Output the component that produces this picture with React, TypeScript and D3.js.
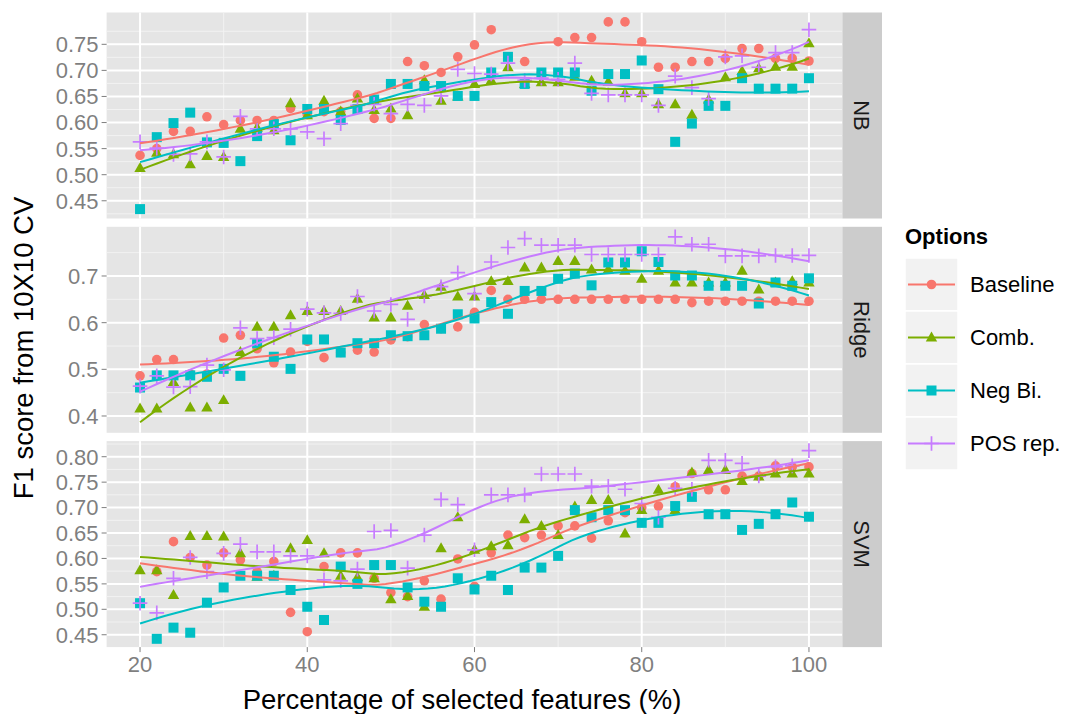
import React from 'react';
import * as d3 from 'd3';

// Percentage of selected features (x positions shared by every series)
const pct = [20, 22, 24, 26, 28, 30, 32, 34, 36, 38, 40, 42, 44, 46, 48, 50, 52, 54, 56, 58, 60,
  62, 64, 66, 68, 70, 72, 74, 76, 78, 80, 82, 84, 86, 88, 90, 92, 94, 96, 98, 100];

const optionNames = ['Baseline', 'Comb.', 'Neg Bi.', 'POS rep.'];
const optionColors = ['#F8766D', '#7CAE00', '#00BFC4', '#C77CFF'];
const panelNames = ['NB', 'Ridge', 'SVM'];

// NB
const nbBaseline = [0.537, 0.55, 0.583, 0.583, 0.611, 0.596, 0.604, 0.604, 0.604, 0.627, 0.615, 0.621, 0.621, 0.653, 0.608, 0.608, 0.717, 0.709, 0.696, 0.726, 0.749,
  0.778, 0.726, 0.717, 0.695, 0.755, 0.763, 0.763, 0.793, 0.793, 0.755, 0.706, 0.706, 0.717, 0.717, 0.723, 0.742, 0.742, 0.723, 0.723, 0.718];
const nbComb = [0.513, 0.542, 0.539, 0.52, 0.536, 0.534, 0.588, 0.59, 0.585, 0.637, 0.614, 0.642, 0.621, 0.646, 0.624, 0.627, 0.614, 0.681, 0.642, 0.65, 0.674,
  0.681, 0.706, 0.674, 0.677, 0.677, 0.688, 0.68, 0.678, 0.656, 0.656, 0.635, 0.635, 0.615, 0.644, 0.687, 0.699, 0.704, 0.707, 0.707, 0.752];
const nbNegBi = [0.434, 0.572, 0.599, 0.619, 0.562, 0.561, 0.526, 0.574, 0.597, 0.566, 0.626, 0.626, 0.605, 0.626, 0.644, 0.674, 0.674, 0.67, 0.67, 0.651, 0.651,
  0.696, 0.726, 0.674, 0.696, 0.696, 0.696, 0.661, 0.693, 0.693, 0.719, 0.664, 0.563, 0.598, 0.632, 0.632, 0.685, 0.665, 0.665, 0.665, 0.685];
const nbPosRep = [0.563, 0.551, 0.539, 0.54, 0.563, 0.534, 0.612, 0.588, 0.588, 0.588, 0.582, 0.569, 0.598, 0.633, 0.635, 0.617, 0.635, 0.633, 0.651, 0.702, 0.694,
  0.693, 0.714, 0.681, 0.685, 0.683, 0.714, 0.656, 0.653, 0.653, 0.653, 0.633, 0.689, 0.667, 0.646, 0.726, 0.728, 0.706, 0.734, 0.734, 0.778];

// Ridge
const ridgeBaseline = [0.486, 0.521, 0.521, 0.49, 0.49, 0.567, 0.573, 0.544, 0.514, 0.537, 0.56, 0.525, 0.536, 0.541, 0.537, 0.563, 0.57, 0.596, 0.587, 0.591, 0.622,
  0.669, 0.65, 0.65, 0.65, 0.65, 0.65, 0.65, 0.65, 0.65, 0.65, 0.65, 0.65, 0.643, 0.646, 0.646, 0.646, 0.646, 0.646, 0.646, 0.646];
const ridgeComb = [0.416, 0.416, 0.473, 0.418, 0.418, 0.434, 0.537, 0.591, 0.591, 0.616, 0.625, 0.625, 0.625, 0.651, 0.611, 0.611, 0.636, 0.659, 0.677, 0.656, 0.656,
  0.689, 0.689, 0.718, 0.718, 0.732, 0.732, 0.714, 0.714, 0.711, 0.694, 0.711, 0.686, 0.686, 0.686, 0.686, 0.711, 0.671, 0.686, 0.689, 0.686];
const ridgeNegBi = [0.461, 0.487, 0.487, 0.487, 0.484, 0.501, 0.486, 0.556, 0.527, 0.501, 0.564, 0.564, 0.536, 0.556, 0.556, 0.573, 0.571, 0.573, 0.587, 0.618, 0.609,
  0.644, 0.619, 0.668, 0.668, 0.694, 0.705, 0.68, 0.729, 0.729, 0.753, 0.73, 0.701, 0.701, 0.679, 0.679, 0.679, 0.641, 0.686, 0.679, 0.695];
const ridgePosRep = [0.464, 0.486, 0.462, 0.463, 0.509, 0.499, 0.589, 0.566, 0.568, 0.586, 0.629, 0.621, 0.62, 0.656, 0.625, 0.639, 0.607, 0.657, 0.677, 0.707, 0.662,
  0.73, 0.761, 0.78, 0.766, 0.766, 0.766, 0.746, 0.746, 0.746, 0.746, 0.746, 0.784, 0.768, 0.768, 0.743, 0.743, 0.743, 0.744, 0.744, 0.744];

// SVM
const svmBaseline = [0.512, 0.574, 0.633, 0.602, 0.587, 0.611, 0.597, 0.574, 0.594, 0.494, 0.456, 0.584, 0.611, 0.611, 0.561, 0.533, 0.525, 0.556, 0.52, 0.599, 0.545,
  0.611, 0.646, 0.641, 0.646, 0.664, 0.664, 0.64, 0.674, 0.69, 0.7, 0.703, 0.741, 0.767, 0.735, 0.735, 0.762, 0.762, 0.782, 0.78, 0.78];
const svmComb = [0.577, 0.577, 0.528, 0.644, 0.644, 0.643, 0.61, 0.564, 0.566, 0.62, 0.636, 0.61, 0.566, 0.563, 0.561, 0.52, 0.526, 0.505, 0.62, 0.681, 0.617,
  0.624, 0.626, 0.677, 0.664, 0.646, 0.702, 0.715, 0.715, 0.649, 0.695, 0.735, 0.695, 0.769, 0.774, 0.774, 0.752, 0.761, 0.767, 0.767, 0.767];
const svmNegBi = [0.512, 0.442, 0.464, 0.454, 0.513, 0.543, 0.566, 0.566, 0.566, 0.538, 0.505, 0.479, 0.584, 0.55, 0.587, 0.587, 0.543, 0.515, 0.505, 0.561, 0.539,
  0.566, 0.538, 0.582, 0.582, 0.605, 0.695, 0.681, 0.695, 0.695, 0.67, 0.67, 0.703, 0.721, 0.687, 0.687, 0.656, 0.668, 0.687, 0.71, 0.682];
const svmPosRep = [0.512, 0.493, 0.561, 0.602, 0.574, 0.61, 0.628, 0.613, 0.613, 0.605, 0.605, 0.558, 0.556, 0.579, 0.653, 0.655, 0.581, 0.646, 0.716, 0.706, 0.617,
  0.725, 0.725, 0.725, 0.766, 0.766, 0.766, 0.742, 0.742, 0.736, 0.708, 0.681, 0.738, 0.736, 0.793, 0.793, 0.787, 0.762, 0.78, 0.782, 0.812];

const panelSeries = [
  [nbBaseline, nbComb, nbNegBi, nbPosRep],
  [ridgeBaseline, ridgeComb, ridgeNegBi, ridgePosRep],
  [svmBaseline, svmComb, svmNegBi, svmPosRep],
];

// Axis settings
const xLimits = [16, 104];
const xBreaks = [20, 40, 60, 80, 100];
const xMinorBreaks = [30, 50, 70, 90];
const nbLimits = [0.416, 0.811];
const ridgeLimits = [0.364, 0.8054];
const svmLimits = [0.4257, 0.8307];
const nbBreaks = [0.45, 0.5, 0.55, 0.6, 0.65, 0.7, 0.75];
const ridgeBreaks = [0.4, 0.5, 0.6, 0.7];
const svmBreaks = [0.45, 0.5, 0.55, 0.6, 0.65, 0.7, 0.75, 0.8];
const panelLimits = [nbLimits, ridgeLimits, svmLimits];
const panelBreaks = [nbBreaks, ridgeBreaks, svmBreaks];

// Local quadratic regression (tricube weights), as used for the smoothed curves
function loessAt(xv: number[], yv: number[], x0: number, span = 0.75): number {
  const n = xv.length;
  const q = Math.floor(n * span);
  const dist = xv.map((v) => Math.abs(v - x0));
  const h = [...dist].sort((a, b) => a - b)[q - 1] * 1.0000001;
  let s0 = 0, s1 = 0, s2 = 0, s3 = 0, s4 = 0, t0 = 0, t1 = 0, t2 = 0;
  for (let i = 0; i < n; i++) {
    const u = dist[i] / h;
    if (u >= 1) continue;
    const w = Math.pow(1 - u * u * u, 3);
    const dx = xv[i] - x0;
    const dx2 = dx * dx;
    s0 += w; s1 += w * dx; s2 += w * dx2; s3 += w * dx2 * dx; s4 += w * dx2 * dx2;
    t0 += w * yv[i]; t1 += w * dx * yv[i]; t2 += w * dx2 * yv[i];
  }
  const det = (a: number[][]) =>
    a[0][0] * (a[1][1] * a[2][2] - a[1][2] * a[2][1]) -
    a[0][1] * (a[1][0] * a[2][2] - a[1][2] * a[2][0]) +
    a[0][2] * (a[1][0] * a[2][1] - a[1][1] * a[2][0]);
  const A = [[s0, s1, s2], [s1, s2, s3], [s2, s3, s4]];
  const A0 = [[t0, s1, s2], [t1, s2, s3], [t2, s3, s4]];
  return det(A0) / det(A);
}

const W = 1065;
const H = 714;
const panelLeft = 106.6;
const panelRight = 842.4;
const stripRight = 882;
const panelHeight = 206;
const panelTops = [12.5, 226.8, 441.1];
const tickFont = 22;
const titleFont = 27.5;
const fontFamily = '"Liberation Sans", Arial, Helvetica, sans-serif';

function Marker({ kind, x, y, color }: { kind: number; x: number; y: number; color: string }) {
  if (kind === 0) return <circle cx={x} cy={y} r={4.8} fill={color} />;
  if (kind === 1) {
    const s = 5.7;
    return <path d={`M${x},${y - s * 1.05}L${x + s},${y + s * 0.7}L${x - s},${y + s * 0.7}Z`} fill={color} />;
  }
  if (kind === 2) return <rect x={x - 5} y={y - 5} width={10} height={10} fill={color} />;
  const a = 7.3;
  return (
    <path d={`M${x - a},${y}H${x + a}M${x},${y - a}V${y + a}`} stroke={color} strokeWidth={1.7} fill="none" />
  );
}

export default function App() {
  const x = d3.scaleLinear().domain(xLimits).range([panelLeft, panelRight]);
  const grid = d3.range(80).map((i) => pct[0] + (i * (pct[pct.length - 1] - pct[0])) / 79);

  return (
    <svg width={W} height={H} style={{ position: 'absolute', left: 0, top: 0, background: '#fff' }}
      fontFamily={fontFamily}>
      <rect x={0} y={0} width={W} height={H} fill="#fff" />
      {panelNames.map((pname, p) => {
        const top = panelTops[p];
        const y = d3.scaleLinear().domain(panelLimits[p]).range([top + panelHeight, top]);
        const breaks = panelBreaks[p];
        const step = breaks[1] - breaks[0];
        const minor = d3.range(breaks[0] - step / 2, breaks[breaks.length - 1] + step, step)
          .filter((v) => v >= panelLimits[p][0] && v <= panelLimits[p][1]);
        const smoothLine = d3.line<[number, number]>().x((d) => x(d[0])).y((d) => y(d[1]));
        return (
          <g key={pname}>
            <rect x={panelLeft} y={top} width={panelRight - panelLeft} height={panelHeight} fill="#E5E5E5" />
            {minor.map((v) => (
              <line key={'hm' + v} x1={panelLeft} x2={panelRight} y1={y(v)} y2={y(v)} stroke="#F2F2F2" strokeWidth={1} />
            ))}
            {xMinorBreaks.map((v) => (
              <line key={'vm' + v} x1={x(v)} x2={x(v)} y1={top} y2={top + panelHeight} stroke="#F2F2F2" strokeWidth={1} />
            ))}
            {breaks.map((v) => (
              <line key={'h' + v} x1={panelLeft} x2={panelRight} y1={y(v)} y2={y(v)} stroke="#fff" strokeWidth={2} />
            ))}
            {xBreaks.map((v) => (
              <line key={'v' + v} x1={x(v)} x2={x(v)} y1={top} y2={top + panelHeight} stroke="#fff" strokeWidth={2} />
            ))}
            {/* points */}
            {panelSeries[p].map((vals, s) => (
              <g key={'pts' + s}>
                {vals.map((v, i) => (
                  <Marker key={i} kind={s} x={x(pct[i])} y={y(v)} color={optionColors[s]} />
                ))}
              </g>
            ))}
            {/* smoothed curves */}
            {panelSeries[p].map((vals, s) => {
              const pts: [number, number][] = grid.map((g) => [g, loessAt(pct, vals, g)]);
              return <path key={'sm' + s} d={smoothLine(pts) || ''} fill="none" stroke={optionColors[s]} strokeWidth={2} />;
            })}
            {/* y axis */}
            {breaks.map((v) => (
              <g key={'yt' + v}>
                <line x1={panelLeft - 5} x2={panelLeft} y1={y(v)} y2={y(v)} stroke="#7F7F7F" strokeWidth={1} />
                <text x={panelLeft - 8} y={y(v)} dy="0.36em" textAnchor="end" fontSize={tickFont} fill="#7F7F7F">
                  {p === 1 ? d3.format('.1f')(v) : d3.format('.2f')(v)}
                </text>
              </g>
            ))}
            {/* strip */}
            <rect x={panelRight} y={top} width={stripRight - panelRight} height={panelHeight} fill="#CCCCCC" />
            <text transform={`translate(${(panelRight + stripRight) / 2},${top + panelHeight / 2}) rotate(90)`}
              textAnchor="middle" dy="0.36em" fontSize={tickFont} fill="#1A1A1A">{pname}</text>
          </g>
        );
      })}
      {/* x axis */}
      {xBreaks.map((v) => {
        const bottom = panelTops[2] + panelHeight;
        return (
          <g key={'xt' + v}>
            <line x1={x(v)} x2={x(v)} y1={bottom} y2={bottom + 5} stroke="#7F7F7F" strokeWidth={1} />
            <text x={x(v)} y={bottom + 7} dy="0.8em" textAnchor="middle" fontSize={tickFont} fill="#7F7F7F">{v}</text>
          </g>
        );
      })}
      <text x={462} y={709} textAnchor="middle" fontSize={titleFont} fill="#000">
        Percentage of selected features (%)
      </text>
      <text transform="translate(33,348) rotate(-90)"
        textAnchor="middle" fontSize={titleFont} fill="#000">F1 score from 10X10 CV</text>
      {/* legend */}
      <text x={905} y={244} fontSize={22} fontWeight="bold" fill="#000">Options</text>
      {optionNames.map((name, s) => {
        const ky = 258 + s * 53;
        return (
          <g key={name}>
            <rect x={905} y={ky} width={53} height={53} fill="#F2F2F2" stroke="#fff" strokeWidth={1.5} />
            <line x1={908} x2={955} y1={ky + 26.5} y2={ky + 26.5} stroke={optionColors[s]} strokeWidth={2} />
            <Marker kind={s} x={931.5} y={ky + 26.5} color={optionColors[s]} />
            <text x={970} y={ky + 26.5} dy="0.36em" fontSize={22} fill="#000">{name}</text>
          </g>
        );
      })}
    </svg>
  );
}
